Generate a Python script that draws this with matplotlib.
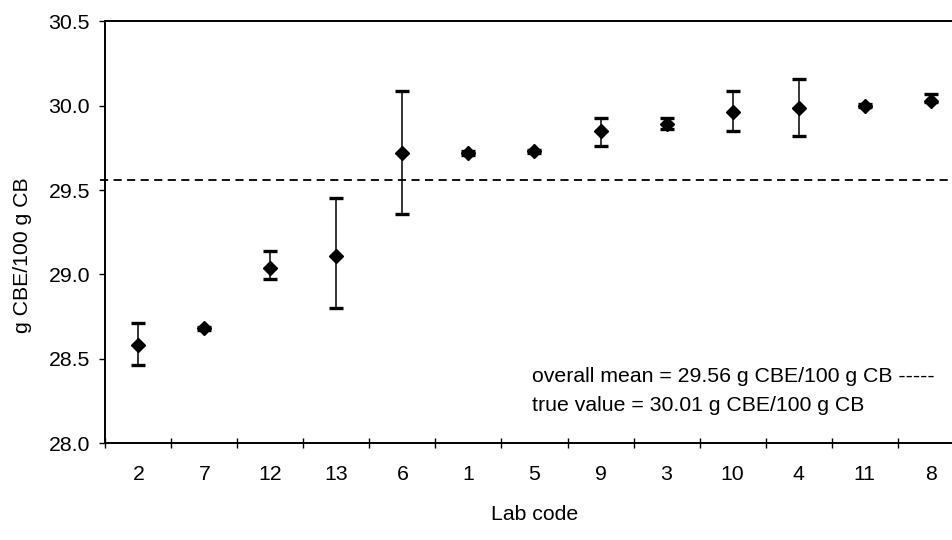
import matplotlib
matplotlib.use('Agg')
from matplotlib import pyplot as plt

plt.rcParams['font.family'] = ['Liberation Sans', 'DejaVu Sans']

labs = ['2', '7', '12', '13', '6', '1', '5', '9', '3', '10', '4', '11', '8']
means = [28.58, 28.68, 29.04, 29.11, 29.72, 29.72, 29.73, 29.85, 29.89, 29.96, 29.985, 30.00, 30.03]
err_up = [0.13, 0.01, 0.10, 0.34, 0.37, 0.01, 0.01, 0.08, 0.04, 0.13, 0.175, 0.01, 0.04]
err_low = [0.12, 0.01, 0.07, 0.31, 0.36, 0.01, 0.01, 0.09, 0.03, 0.11, 0.165, 0.01, 0.01]
overall_mean = 29.56
true_value = 30.01
yticks = [28.0, 28.5, 29.0, 29.5, 30.0, 30.5]

fs = 15.3

fig = plt.figure(figsize=(9.53, 5.4), dpi=100)
ax = fig.add_axes([0.1105, 0.1796, 0.9007, 0.7808])

x = list(range(len(labs)))
ax.errorbar(x, means, yerr=[err_low, err_up], fmt='D', color='black',
            markersize=7, ecolor='black', elinewidth=1.1, capsize=5, capthick=2.4)

ax.axhline(overall_mean, xmin=-0.006, xmax=1, color='black', lw=1.3,
           linestyle=(0, (4.5, 3)), clip_on=False)

ax.set_xlim(-0.5, len(labs) - 0.5)
ax.set_ylim(28.0, 30.5)

ax.set_xticks(x)
ax.set_xticklabels(labs)
ax.set_xticks([i - 0.5 for i in range(len(labs) + 1)], minor=True)
ax.tick_params(axis='x', which='major', length=0, pad=16, labelsize=fs)
ax.tick_params(axis='x', which='minor', direction='inout', length=7, width=1)

ax.set_yticks(yticks)
ax.set_yticklabels([f'{v:.1f}' for v in yticks])
ax.tick_params(axis='y', which='major', direction='out', length=4, width=1,
               pad=7, labelsize=fs)

for side in ['top', 'left', 'bottom']:
    ax.spines[side].set_linewidth(1.4)
ax.spines['right'].set_visible(False)

ax.set_xlabel('Lab code', fontsize=fs)
ax.xaxis.set_label_coords(0.5, -0.147)
ax.set_ylabel('g CBE/100 g CB', fontsize=fs)
ax.yaxis.set_label_coords(-0.0854, 0.446)

ax.text(0.4967, 0.157, f'overall mean = {overall_mean:.2f} g CBE/100 g CB -----',
        transform=ax.transAxes, fontsize=fs, va='center', ha='left')
ax.text(0.4967, 0.090, f'true value = {true_value:.2f} g CBE/100 g CB',
        transform=ax.transAxes, fontsize=fs, va='center', ha='left')

fig.savefig('out.png', dpi=100)
